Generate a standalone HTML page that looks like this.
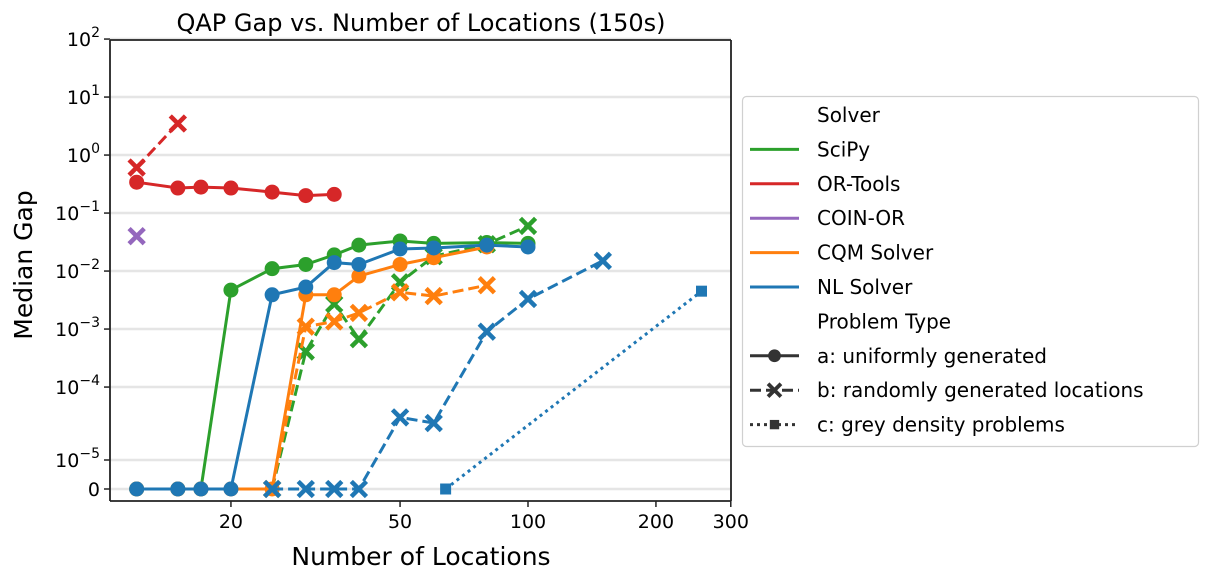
<!DOCTYPE html>
<html><head><meta charset="utf-8">
<style>
html,body{margin:0;padding:0;background:#fff;}
svg{display:block;font-family:"DejaVu Sans","Liberation Sans",sans-serif;}
</style></head>
<body>
<svg id="chart" width="1208" height="582" viewBox="0 0 1208 582">
<text x="421" y="31" font-size="24" text-anchor="middle" fill="#000">QAP Gap vs. Number of Locations (150s)</text>
<g id="grid"></g>
<g id="series"></g>
<g id="axes"></g>
<text x="421" y="565" font-size="25" text-anchor="middle">Number of Locations</text>
<text transform="translate(32,265) rotate(-90)" font-size="25" text-anchor="middle">Median Gap</text>
<g id="legend"></g>
</svg>
<script>
// ---- data ----
const solvers = ["SciPy","OR-Tools","COIN-OR","CQM Solver","NL Solver"];
const colors = ["#2ca02c","#d62728","#9467bd","#ff7f0e","#1f77b4"];
const scipyA_x = [12,15,17,20,25,30,35,40,50,60,80,100];
const scipyA_y = [0,0,0,0.0047,0.011,0.013,0.019,0.028,0.033,0.030,0.031,0.030];
const scipyB_x = [25,30,35,40,50,60,80,100];
const scipyB_y = [0,0.00041,0.0027,0.00067,0.0064,0.018,0.029,0.06];
const ortoolsA_x = [12,15,17,20,25,30,35];
const ortoolsA_y = [0.34,0.27,0.28,0.27,0.23,0.20,0.21];
const ortoolsB_x = [12,15];
const ortoolsB_y = [0.61,3.5];
const coinB_x = [12];
const coinB_y = [0.04];
const cqmA_x = [12,15,17,20,25,30,35,40,50,60,80];
const cqmA_y = [0,0,0,0,0,0.0039,0.0039,0.0082,0.013,0.017,0.026];
const cqmB_x = [25,30,35,40,50,60,80];
const cqmB_y = [0,0.0011,0.00135,0.0019,0.0043,0.0037,0.0057];
const nlA_x = [12,15,17,20,25,30,35,40,50,60,80,100];
const nlA_y = [0,0,0,0,0.0039,0.0053,0.014,0.013,0.024,0.025,0.028,0.026];
const nlB_x = [25,30,35,40,50,60,80,100,150];
const nlB_y = [0,0,0,0,0.000030,0.000024,0.0009,0.0033,0.015];
const nlC_x = [64,256];
const nlC_y = [0,0.0045];
const yTickVals = [0,1e-5,1e-4,1e-3,1e-2,1e-1,1,10,100];
const yTickLabels = ["0","10<sup>−5</sup>","10<sup>−4</sup>","10<sup>−3</sup>","10<sup>−2</sup>","10<sup>−1</sup>","10<sup>0</sup>","10<sup>1</sup>","10<sup>2</sup>"];
const yTickExp = ["","−5","−4","−3","−2","−1","0","1","2"];
const xTickVals = [20,50,100,200,300];
const xTickLabels = ["20","50","100","200","300"];

// ---- scales ----
const L = 0, R = 731, T = 40, B = 501;
const X0 = 110;
function xs(v){ return 528 + 425*Math.log10(v/100); }
const LT = 2.2e-5, LS = 1.1, DEC = 58, Y0 = 489;
function ys(v){
  let d = v <= LT ? LS*v/LT : LS + Math.log10(v/LT);
  return Y0 - d*DEC;
}
const NS = "http://www.w3.org/2000/svg";
function mk(tag, attrs, parent){
  const e = document.createElementNS(NS, tag);
  for (const k in attrs) e.setAttribute(k, attrs[k]);
  parent.appendChild(e); return e;
}
const grid = document.getElementById('grid');
const axes = document.getElementById('axes');
const ser = document.getElementById('series');
const leg = document.getElementById('legend');

// gridlines + y ticks
yTickVals.forEach((v,i)=>{
  const y = ys(v);
  const g = mk('line',{x1:X0,x2:R,y1:y,y2:y,stroke:'#e5e5e5','stroke-width':2.5},grid);
  
  
  const t = mk('line',{x1:X0-6,x2:X0,y1:y,y2:y,stroke:'#222','stroke-width':1.5},axes);
  
  
  const tx = mk('text',{x:X0-10,y:y+7,'font-size':19,'text-anchor':'end'},axes);
  
  
  if (yTickExp[i]===""){ tx.textContent = yTickLabels[i]; }
  else {
    tx.appendChild(document.createTextNode("10"));
    const s = mk('tspan',{dy:-9,'font-size':14},tx); s.textContent = yTickExp[i];
  }
});
// x ticks
xTickVals.forEach((v,i)=>{
  const x = xs(v);
  const t = mk('line',{x1:x,x2:x,y1:B,y2:B+6,stroke:'#222','stroke-width':1.5},axes);
  
  
  const tx = mk('text',{x:x,y:B+27,'font-size':19,'text-anchor':'middle'},axes);
  
  
  tx.textContent = xTickLabels[i];
});
// axes spines
const sp1 = mk('line',{x1:X0,x2:X0,y1:T,y2:B,stroke:'#222','stroke-width':1.8},axes);


const sp2 = mk('line',{x1:X0,x2:R,y1:B,y2:B,stroke:'#222','stroke-width':1.8},axes);


const sp3 = mk('line',{x1:R,x2:R,y1:T,y2:B,stroke:'#222','stroke-width':1.8},axes);


const sp4 = mk('line',{x1:X0,x2:R,y1:T,y2:T,stroke:'#222','stroke-width':1.8},axes);



function marker(kind, x, y, c, parent, sc){
  sc = sc || 1;
  let m;
  if (kind==='o') m = mk('circle',{cx:x,cy:y,r:7.5*sc,fill:c},parent);
  else if (kind==='s') m = mk('rect',{x:x-5.5*sc,y:y-5.5*sc,width:11*sc,height:11*sc,fill:c},parent);
  else {
    const a=6*sc;
    m = mk('path',{d:`M${x-a} ${y-a}L${x+a} ${y+a}M${x+a} ${y-a}L${x-a} ${y+a}`,stroke:c,'stroke-width':4.5*sc,'stroke-linecap':'square',fill:'none'},parent);
  }
  return m;
}
const dashes = {a:'', b:'11,5', c:'3,4'};
const mkind = {a:'o', b:'x', c:'s'};
function drawSeries(xsArr, ysArr, color, type, name){
  const g = mk('g',{},ser);
  
  
  const pts = xsArr.map((v,i)=>xs(v).toFixed(1)+','+ys(ysArr[i]).toFixed(1)).join(' ');
  if (xsArr.length>1){
    const p = mk('polyline',{points:pts,fill:'none',stroke:color,'stroke-width':3,'stroke-dasharray':dashes[type]},g);
    
    
  }
  xsArr.forEach((v,i)=>{
    const m = marker(mkind[type], xs(v), ys(ysArr[i]), color, g);
    
    
  });
}
drawSeries(scipyA_x, scipyA_y, colors[0], 'a', 'scipy-a');
drawSeries(scipyB_x, scipyB_y, colors[0], 'b', 'scipy-b');
drawSeries(ortoolsA_x, ortoolsA_y, colors[1], 'a', 'ortools-a');
drawSeries(ortoolsB_x, ortoolsB_y, colors[1], 'b', 'ortools-b');
drawSeries(coinB_x, coinB_y, colors[2], 'b', 'coinor-b');
drawSeries(cqmA_x, cqmA_y, colors[3], 'a', 'cqm-a');
drawSeries(cqmB_x, cqmB_y, colors[3], 'b', 'cqm-b');
drawSeries(nlA_x, nlA_y, colors[4], 'a', 'nl-a');
drawSeries(nlB_x, nlB_y, colors[4], 'b', 'nl-b');
drawSeries(nlC_x, nlC_y, colors[4], 'c', 'nl-c');

// legend
const box = mk('rect',{x:742.5,y:96.5,width:456,height:350,rx:4,fill:'#fff',stroke:'#d0d0d0','stroke-width':1.2},leg);


const legendRows = ["Solver"].concat(solvers).concat(["Problem Type","a: uniformly generated","b: randomly generated locations","c: grey density problems"]);
legendRows.forEach((lab,i)=>{
  const y = 115 + i*34.4;
  const g = mk('g',{},leg);
  
  
  const t = mk('text',{x:817,y:y+7,'font-size':20},g);
  t.textContent = lab;
  if (i>=1 && i<=5){
    mk('line',{x1:750,x2:799,y1:y,y2:y,stroke:colors[i-1],'stroke-width':3},g);
  } else if (i>=7){
    const k = ['a','b','c'][i-7];
    mk('line',{x1:750,x2:799,y1:y,y2:y,stroke:'#333','stroke-width':3,'stroke-dasharray':dashes[k]},g);
    marker(mkind[k],774.5,y,'#333',g,0.85);
  }
});
</script>
</body></html>
